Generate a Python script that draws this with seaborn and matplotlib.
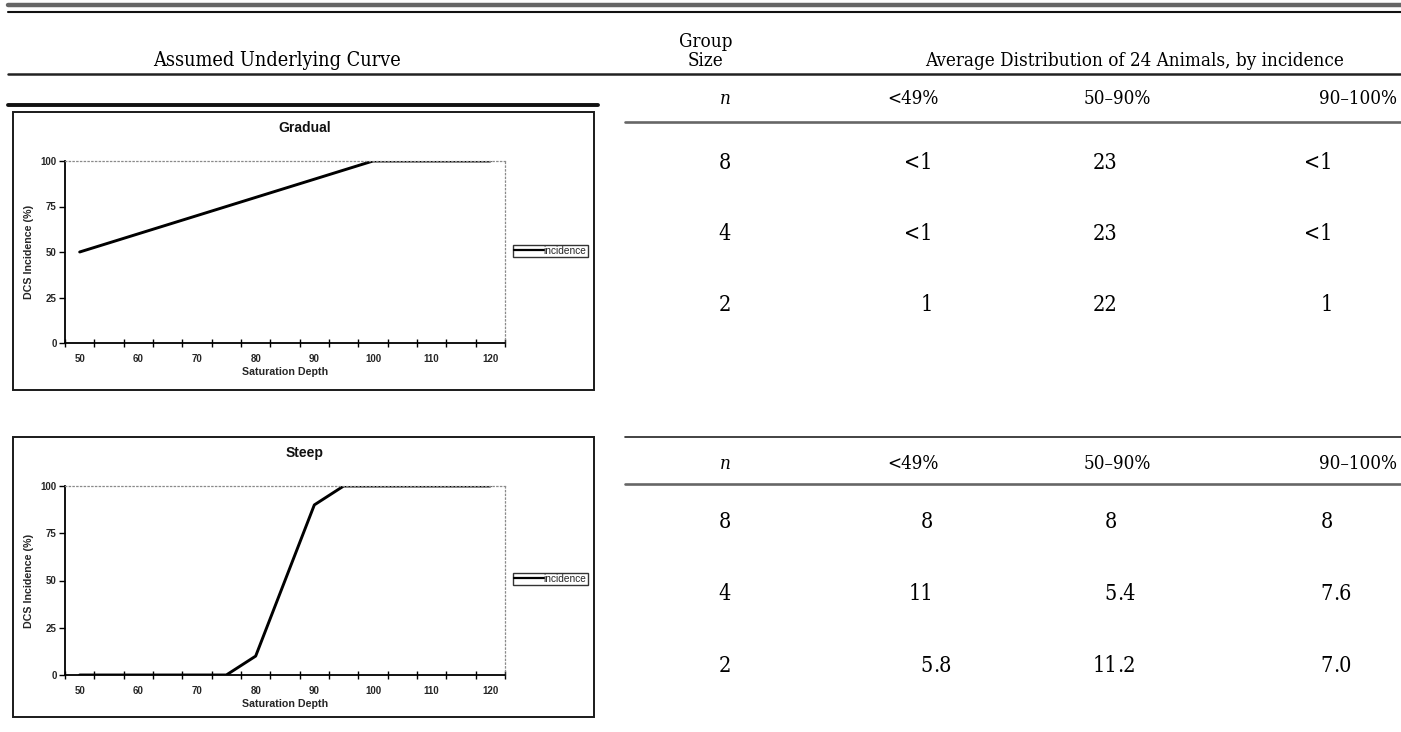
import matplotlib
matplotlib.use("Agg")
import matplotlib.pyplot as plt
import seaborn as sns
import pandas as pd
from matplotlib.lines import Line2D
from matplotlib.patches import Rectangle

# ---------------- data ----------------
depths = [50, 55, 60, 65, 70, 75, 80, 85, 90, 95, 100, 105, 110, 115, 120]
gradual_incidence = [50, 55, 60, 65, 70, 75, 80, 85, 90, 95, 100, 100, 100, 100, 100]
steep_incidence = [0, 0, 0, 0, 0, 0, 10, 50, 90, 100, 100, 100, 100, 100, 100]
y_ticks = [0, 25, 50, 75, 100]
x_tick_labels = ["50", "60", "70", "80", "90", "100", "110", "120"]

col_headers = ["n", "<49%", "50\u201390%", "90\u2013100%"]
group_sizes = ["8", "4", "2"]
gradual_lt49 = ["<1", "<1", "1"]
gradual_50_90 = ["23", "23", "22"]
gradual_90_100 = ["<1", "<1", "1"]
steep_lt49 = ["8", "11", "5.8"]
steep_50_90 = ["8", "5.4", "11.2"]
steep_90_100 = ["8", "7.6", "7.0"]

W, H = 1401, 732
sns.set_style("white")
plt.rcParams["font.family"] = ["DejaVu Sans"]
fig = plt.figure(figsize=(W / 100, H / 100), dpi=100)
fig.patch.set_facecolor("white")

SERIF = "DejaVu Serif"
CHART_FONT = "Liberation Sans"


def fx(x):
    return x / W


def fy(y):
    return 1 - y / H


def hline(y, x0, x1, lw, color="black"):
    fig.add_artist(Line2D([fx(x0), fx(x1)], [fy(y), fy(y)], lw=lw, color=color,
                          transform=fig.transFigure))


def ftext(x, y, s, size, ha="center", style="normal", va="center"):
    fig.text(fx(x), fy(y), s, ha=ha, va=va, fontsize=size, fontstyle=style,
             family=SERIF, fontstretch="condensed", color="black")


def draw_chart(box_top, box_bottom, plot_top, plot_bottom, title, title_y, values,
               legend_y):
    fig.add_artist(Rectangle((fx(13), fy(box_bottom)), fx(594) - fx(13),
                             fy(box_top) - fy(box_bottom), transform=fig.transFigure,
                             fill=False, lw=1.4, edgecolor="#1a1a1a"))
    left, right = 65, 505
    ax = fig.add_axes([fx(left), fy(plot_bottom), fx(right) - fx(left),
                       fy(plot_top) - fy(plot_bottom)])
    df = pd.DataFrame({"pos": range(len(depths)), "depth": depths, "incidence": values})
    sns.lineplot(data=df, x="pos", y="incidence", ax=ax, color="black", lw=2.1,
                 label="incidence")
    ax.set_xlim(-0.5, len(depths) - 0.5)
    ax.set_ylim(0, 100)
    ax.set_facecolor("white")
    ax.set_xticks(range(0, len(depths), 2))
    ax.set_xticklabels(x_tick_labels, fontsize=7, fontweight="bold", family=CHART_FONT)
    ax.set_xticks([i - 0.5 for i in range(len(depths) + 1)], minor=True)
    ax.tick_params(axis="x", which="major", length=0, pad=8)
    ax.tick_params(axis="x", which="minor", length=6, width=1.0, direction="inout",
                   bottom=True, color="black")
    ax.set_yticks(y_ticks)
    ax.set_yticklabels([str(v) for v in y_ticks], fontsize=7, fontweight="bold",
                       family=CHART_FONT)
    ax.tick_params(axis="y", which="major", length=4, width=1.0, direction="out",
                   left=True, color="black", pad=2)
    for s in ["left", "bottom"]:
        ax.spines[s].set_color("black")
        ax.spines[s].set_linewidth(1.3)
    for s in ["top", "right"]:
        ax.spines[s].set_color("#8a8a8a")
        ax.spines[s].set_linewidth(0.9)
        ax.spines[s].set_linestyle((0, (1, 2)))
    ax.set_xlabel("Saturation Depth", fontsize=7.7, fontweight="bold", family=CHART_FONT,
                  labelpad=2)
    ax.set_ylabel("DCS Incidence (%)", fontsize=7.7, fontweight="bold", family=CHART_FONT,
                  labelpad=5)
    fig.text(fx(305), fy(title_y), title, ha="center", va="center", fontsize=10,
             fontweight="bold", family=CHART_FONT, color="#111111")
    leg = ax.legend(loc="center left", bbox_to_anchor=(fx(513), fy(legend_y)),
                    bbox_transform=fig.transFigure, frameon=True, fancybox=False,
                    prop={"family": CHART_FONT, "size": 7.3}, handlelength=2.9,
                    handletextpad=0.0, borderpad=0.12, borderaxespad=0)
    leg.get_frame().set_edgecolor("black")
    leg.get_frame().set_linewidth(1.0)
    for ln in leg.get_lines():
        ln.set_linewidth(1.6)
    return ax


# ---------------- rules ----------------
hline(5, 8, W, 3.2, "#666666")
hline(12, 8, W, 1.5, "#111111")
hline(74, 8, W, 1.8, "#222222")
hline(105, 8, 598, 2.8, "#111111")
hline(122, 625, W, 1.9, "#666666")
hline(437, 625, W, 1.2, "#222222")
hline(484, 625, W, 1.9, "#666666")

# ---------------- headers ----------------
HS = 13.5
ftext(277, 66, "Assumed Underlying Curve", 14.2, va="baseline")
ftext(706, 47, "Group", HS, va="baseline")
ftext(706, 66, "Size", HS, va="baseline")
ftext(1135, 66, "Average Distribution of 24 Animals, by incidence", HS, va="baseline")

n_x = 725
head_x = [913, 1117]


def header_row(y):
    ftext(n_x, y, col_headers[0], HS, style="italic")
    ftext(head_x[0], y, col_headers[1], HS)
    ftext(head_x[1], y, col_headers[2], HS)
    ftext(1397, y, col_headers[3], HS, ha="right")


header_row(99)
header_row(464)

NUM = 15.5
int_end = [933, 1117, 1333]


def value(x_end, y, s):
    if "." in s:
        ip, fp = s.split(".")
        ftext(x_end, y, ip, NUM, ha="right")
        ftext(x_end, y, "." + fp, NUM, ha="left")
    else:
        ftext(x_end, y, s, NUM, ha="right")


def data_rows(ys, c1, c2, c3):
    for y, g, a, b, c in zip(ys, group_sizes, c1, c2, c3):
        ftext(n_x, y, g, NUM)
        value(int_end[0], y, a)
        value(int_end[1], y, b)
        value(int_end[2], y, c)


data_rows([163, 234, 305], gradual_lt49, gradual_50_90, gradual_90_100)
data_rows([522, 594, 666], steep_lt49, steep_50_90, steep_90_100)

# ---------------- charts ----------------
draw_chart(112, 390, 161, 343, "Gradual", 128, gradual_incidence, 251)
draw_chart(437, 717, 486, 675, "Steep", 453, steep_incidence, 579)

fig.savefig("out.png", dpi=100, facecolor="white")
